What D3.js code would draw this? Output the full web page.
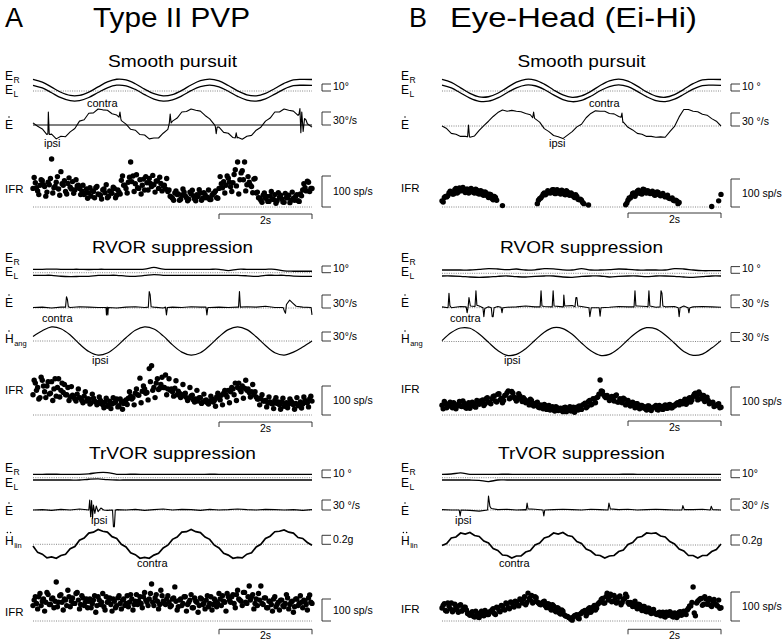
<!DOCTYPE html>
<html><head><meta charset="utf-8">
<script src="https://cdn.jsdelivr.net/npm/d3@7/dist/d3.min.js"></script>
<style>
body{margin:0;background:#fff}
svg{display:block}
text{font-family:"Liberation Sans",Arial,Helvetica,sans-serif;fill:#000}
</style></head>
<body><svg id="c" width="783" height="641"></svg>
<script>
// ---------------- DATA (time axis: 0..6 s, samples evenly spaced) ----------------
const DURATION = 6;
const timeBarSeconds = [4, 6];
const mainTitles = ["Type II PVP", "Eye-Head (Ei-Hi)"];
const panelLetters = ["A", "B"];
const sectionTitles = ["Smooth pursuit", "RVOR suppression", "TrVOR suppression"];

// Smooth pursuit — eye position (deg)
const spA_ER = [16.6,12.7,5.5,-1.8,-6.4,-6.3,-1.6,5.8,12.9,16.8,15.8,10.4,2.7,-3.9,-7,-5.1,0.8,8.6,14.7,17,14.4,7.8,0.2,-5.4,-6.9,-3.4,3.6,11,16,16.6,16.4];
const spA_EL = [8.2,4.4,-2.5,-9.6,-13.9,-13.8,-9.3,-2.2,4.6,8.3,7.4,2.2,-5.2,-11.5,-14.5,-12.7,-7,0.5,6.3,8.5,6,-0.4,-7.6,-13,-14.4,-11.1,-4.4,2.8,7.6,8.2,7.9];
const spB_ER = [16.6,12.3,4.5,-3.4,-8.4,-8.2,-3.2,4.9,12.6,16.7,15.7,9.9,1.5,-5.6,-9.0,-6.9,-0.6,7.9,14.5,17.0,14.1,7.0,-1.2,-7.3,-8.9,-5.1,2.4,10.5,16.0,16.6,16.4];
const spB_EL = [8.3,4.4,-2.8,-10.1,-14.7,-14.6,-9.9,-2.5,4.6,8.5,7.5,2.1,-5.6,-12.2,-15.3,-13.4,-7.5,0.3,6.4,8.7,6.1,-0.5,-8.1,-13.7,-15.2,-11.7,-4.7,2.7,7.7,8.3,8.1];
// Smooth pursuit — eye velocity (deg/s) + saccades [t, v]
const spA_Edot = [5,-3,-9,-22,-21,-32,-26,-27,-16,-8,9,12,27,28,37,35,34,26,23,10,2,-10,-12,-22,-23,-32,-30,-30,-19,-10,9,16,30,31,37,34,32,22,14,1,-5,-17,-19,-29,-28,-33,-26,-24,-12,-5,9,16,30,30,37,34,32,22,14,3,-5];
const spA_EdotSacc = [
  [[0.32,-20],[0.33,30],[0.35,-22]],
  [[1.85,18],[1.87,30],[1.89,14]],
  [[2.93,3],[2.95,25],[2.97,5]],
  [[3.92,-3],[3.94,-20],[3.96,-5]],
  [[4.35,-30],[4.37,-18],[4.39,-30]],
  [[5.72,25],[5.74,38],[5.76,-18],[5.78,30],[5.81,-15],[5.84,15],[5.87,12]]
];
const spB_Edot = [0,-6,-17,-19,-24,-24,-26,-23,-10,1,11,22,31,37,34,36,34,33,29,26,17,9,-6,-13,-22,-25,-29,-21,-13,-2,4,19,29,35,34,34,29,28,22,9,-3,-9,-17,-19,-24,-24,-26,-25,-26,-13,-1,21,38,38,34,33,27,25,17,11,0];
const spB_EdotSacc = [
  [[0.55,-25],[0.57,2],[0.59,-24]],
  [[1.95,19],[1.97,32],[1.99,18]],
  [[3.85,20],[3.87,30],[3.89,8]]
];
// Smooth pursuit — instantaneous firing rate (sp/s); two interleaved spike sets, null = no spikes
const spA_IFR = [60,78,52,70,85,66,48,72,155,62,80,58,114,70,50,76,64,82,55,68,60,
  52,40,58,45,35,50,62,42,38,55,46,30,52,44,60,38,48,
  86,70,60,80,145,100,75,62,88,70,55,78,92,66,72,84,60,76,68,58,
  50,35,28,45,40,22,38,48,30,25,42,36,20,34,45,28,40,32,24,38,46,30,
  60,75,82,70,93,65,78,120,145,88,117,145,72,80,66,90,
  45,30,22,38,28,18,35,25,40,20,32,26,15,30,38,22,28,35,20,42,
  55,62,83,50,60];
const spA_IFR2 = [95,62,40,88,72,35,80,92,45,66,98,38,75,85,42,94,58,44,88,70,40,
  70,45,28,62,52,30,66,40,26,58,72,34,48,64,30,55,42,
  100,70,45,96,82,50,104,60,42,90,98,55,76,102,48,84,96,52,70,92,
  55,32,22,52,42,25,58,36,20,48,54,26,40,56,22,46,30,55,24,44,52,28,
  98,62,45,100,80,50,105,68,42,110,88,52,98,70,46,92,
  48,28,15,45,34,18,50,24,12,46,38,16,44,30,14,48,22,40,18,36,
  75,52,80,60];
const spB_IFR = [22,34,36,50,52,46,66,54,62,70,52,64,56,62,50,60,46,56,42,50,34,44,26,34,null,
  null,5,null,null,null,null,null,null,null,null,null,null,null,null,null,null,
  12,30,38,50,48,54,52,62,48,58,46,56,44,54,42,46,34,38,26,24,12,
  null,7,null,null,null,null,null,null,null,null,null,null,null,null,null,null,null,
  8,24,32,48,38,56,50,46,62,50,54,50,46,44,52,40,48,36,42,30,32,22,22,16,
  null,null,null,null,null,null,null,null,null,null,null,null,null,2,null,null,22,45];
const spB_IFR2 = [18,38,40,56,46,62,50,68,58,62,64,50,66,52,64,48,58,44,54,40,46,30,38,24,
  null,null,null,null,null,null,null,null,null,null,null,null,null,null,null,null,null,
  24,32,46,44,58,50,62,48,62,50,60,46,58,44,50,38,44,28,28,16,
  null,null,null,null,null,null,null,null,null,null,null,null,null,null,null,null,null,null,
  14,32,38,50,46,60,48,64,52,58,48,56,42,54,44,42,40,38,32,30,24,24,12,
  null,null,null,null,null,null,null,null,null,null,null,null,null,null,null,null,null,null];

// RVOR suppression
const rvA_ER = [5.1,5.1,5.3,5.1,5.1,5.1,4.8,5.1,5.1,5.1,5.1,5.1,5.3,8.0,5.3,5.1,5.1,5.1,5.1,5.1,5.1,3.2,5.1,5.1,5.1,5.1,5.1,2.6,2.2,2.2,2.2];
const rvA_EL = [-3.9,-3.9,-3.9,-5.3,-5.8,-5.6,-5.4,-4.1,-3.9,-3.9,-5.1,-5.4,-4.1,-2.8,-3.9,-3.9,-3.9,-3.9,-4.1,-3.9,-3.9,-3.9,-3.9,-4.6,-5.6,-3.9,-3.9,-3.9,-5.1,-5.4,-5.4];
const rvB_ER = [4.9,4.9,4.9,4.9,5.9,6.9,6.4,5.4,6.4,4.9,5.2,6.9,6.6,5.2,4.9,6.9,4.9,4.9,5.4,6.4,5.9,4.9,4.9,4.9,4.9,6.9,6.4,4.9,3.9,3.9,3.9];
const rvB_EL = [-4.0,-4.0,-4.5,-5.5,-6.0,-5.5,-4.5,-4.0,-5.0,-5.5,-4.5,-4.0,-4.0,-5.5,-6.0,-4.5,-4.0,-4.0,-5.5,-4.5,-4.0,-4.0,-5.0,-4.0,-4.0,-4.5,-5.5,-6.0,-5.0,-4.0,-4.0];
const rvA_Edot = [1,2,0,2,1,3,2,1,2,0,2,3,1,2,0,2,1,3,2,1,2,1,2,3,2,4,1,2,3,2,1];
const rvA_EdotSacc = [
  [[0.70,2],[0.72,26],[0.74,20],[0.76,3]],
  [[1.57,1],[1.58,-16],[1.595,2],[1.61,-16],[1.62,1]],
  [[2.48,2],[2.50,38],[2.52,30],[2.54,3]],
  [[2.85,2],[2.87,-16],[2.89,1]],
  [[3.72,2],[3.74,-16],[3.76,1]],
  [[4.42,2],[4.44,38],[4.46,2]],
  [[5.38,1],[5.41,-8],[5.43,-12],[5.45,8],[5.52,18],[5.58,12],[5.66,4]],
  [[5.98,1],[6.0,-16]]
];
const rvB_Edot = [2,0,3,1,4,2,3,1,2,4,2,3,1,2,5,3,2,4,1,3,2,4,3,1,2,3,4,2,3,2,1];
const rvB_EdotSacc = [
  [[0.13,0],[0.15,34],[0.17,5]],
  [[0.52,2],[0.54,-12],[0.56,0],[0.58,24],[0.61,4]],
  [[0.71,3],[0.73,40],[0.75,6]],
  [[0.88,0],[0.90,-21],[0.92,-2]],
  [[1.06,0],[1.08,-21],[1.10,-21],[1.12,0]],
  [[1.27,1],[1.29,-12],[1.31,0]],
  [[2.11,2],[2.13,40],[2.15,4]],
  [[2.37,2],[2.39,40],[2.41,4]],
  [[2.61,2],[2.62,30],[2.64,4]],
  [[2.86,2],[2.88,24],[2.90,24],[2.92,4]],
  [[3.16,0],[3.18,-21],[3.21,0]],
  [[3.38,0],[3.40,-20],[3.42,0]],
  [[4.13,2],[4.15,40],[4.17,4]],
  [[4.43,2],[4.45,40],[4.47,4]],
  [[4.69,2],[4.71,40],[4.73,34],[4.75,4]],
  [[5.08,0],[5.10,-21],[5.12,0]],
  [[5.29,0],[5.31,-12],[5.33,0]]
];
const rvA_Hang = [15,34,47,41,20,-10,-35,-47,-40,-18,11,36,47,40,17,-13,-37,-47,-39,-15,14,38,47,38,14,-15,-39,-47,-37,-20,0];
const rvB_Hang = [3,30,45,44,25,-3,-30,-46,-43,-24,4,31,46,43,24,-5,-31,-46,-43,-23,6,32,46,42,22,-6,-33,-46,-42,-22,3];
const rvA_IFR = [70,110,95,60,120,80,100,72,115,90,65,125,85,
  78,70,95,62,68,55,72,60,50,65,48,55,42,58,45,
  40,50,35,45,30,48,38,42,55,32,46,40,52,
  58,65,60,75,70,127,82,90,78,160,170,95,110,88,
  105,95,138,90,85,80,92,70,75,65,72,60,58,66,52,55,48,60,45,50,42,
  48,55,50,62,58,68,75,70,85,80,90,110,95,88,100,92,85,78,80,
  70,62,55,58,48,50,42,45,38,50,40,35,45,30,42,38,48,35,40,32,45,38,50,42,55,48];
const rvA_IFR2 = [120,85,55,130,100,60,115,75,50,125,95,62,110,
  105,70,50,98,62,48,90,58,42,80,55,38,72,48,35,
  62,40,25,58,35,22,60,45,28,55,20,48,36,
  80,55,35,90,68,42,100,75,52,115,85,60,125,92,
  130,95,70,125,90,65,118,82,60,105,75,50,95,68,45,85,60,40,72,52,38,
  65,45,30,75,52,35,85,62,42,95,70,50,110,80,58,120,90,62,105,
  80,55,35,70,48,28,62,40,22,60,45,20,58,38,25,55,42,20,60,34,24,62,44,28,65];
const rvB_IFR = [35,48,26,40,30,44,22,38,32,50,28,36,24,46,30,52,38,
  48,34,58,46,40,66,50,74,54,44,70,80,58,84,64,50,76,56,
  62,44,50,56,36,40,46,26,32,38,20,34,22,18,30,16,
  24,12,28,16,30,18,10,28,32,20,
  38,26,48,36,58,44,64,125,84,66,70,52,
  66,50,72,46,48,60,36,52,32,46,26,40,22,34,30,18,32,16,
  28,34,18,30,20,36,24,38,26,32,42,
  36,44,50,38,58,46,66,78,54,74,62,48,64,40,
  44,30,34,40,28];
const rvB_IFR2 = [22,40,34,46,26,38,32,48,30,42,24,44,34,40,28,44,50,
  54,40,62,44,58,68,46,76,60,52,72,86,62,78,58,62,68,48,
  56,48,36,52,32,42,28,36,22,34,28,18,30,14,26,22,
  16,26,12,24,14,28,20,18,30,36,
  42,30,52,38,56,62,74,86,72,62,64,58,
  60,68,46,58,44,56,40,44,38,34,40,28,34,26,22,32,20,26,
  30,20,34,22,32,24,36,26,34,38,44,
  48,40,56,44,62,54,74,66,82,58,70,54,52,44,
  46,34,38,26];

// TrVOR suppression
const trA_ER = [4.4,4.4,4.5,4.4,4.4,4.4,5.0,6.6,6.6,4.4,4.4,4.5,4.4,4.4,4.4,4.3,4.4,4.4,4.4,4.5,4.4,4.4,4.4,4.4,4.3,4.4,4.4,4.4,4.4,4.4,4.4];
const trA_EL = [-3,-3,-3,-3,-3,-3,-2.0,-1.5,-2.5,-3,-3,-3,-3,-3,-3,-3,-3,-3,-3,-3,-3,-3,-3,-3,-3,-3,-3,-3,-3,-3,-3];
const trB_ER = [4.4,4.8,6.2,4.4,4.4,4.4,4.4,4.5,4.4,4.4,4.4,4.4,4.4,4.3,4.4,4.4,4.4,4.4,4.4,4.4,4.5,4.4,4.4,4.4,4.4,4.4,4.4,4.4,4.4,4.4,4.4];
const trB_EL = [-3,-3,-3,-3,-3.4,-5.0,-3,-3,-3,-3,-3,-3,-3,-3,-3,-3,-3,-3,-3,-3,-3,-3,-3,-3,-3,-3,-3,-3,-3,-3,-3];
const trA_Edot = [0,1,-1,2,0,3,1,2,-1,1,0,2,-1,1,3,0,2,1,-1,2,0,1,3,1,0,2,1,0,1,-1,1];
const trA_EdotSacc = [
  [[1.20,0],[1.22,30],[1.24,-20],[1.26,28],[1.28,-25],[1.30,15],[1.33,-10],[1.36,12],[1.40,-5],[1.46,6],[1.52,0]],
  [[1.71,0],[1.73,-50],[1.75,-50],[1.77,0]]
];
const trB_Edot = [1,0,2,-1,-3,-2,1,2,0,1,2,0,1,2,1,0,2,1,0,1,2,0,1,2,1,0,2,1,2,1,0];
const trB_EdotSacc = [
  [[0.37,0],[0.39,-16],[0.41,0]],
  [[0.98,0],[1.00,38],[1.03,10],[1.06,4]],
  [[1.81,0],[1.83,19],[1.85,3]],
  [[2.17,0],[2.19,-16],[2.21,0]],
  [[3.57,0],[3.59,19],[3.62,3]],
  [[5.16,0],[5.18,12],[5.21,1]],
  [[5.77,0],[5.79,10],[5.82,1]]
];
const trA_Hlin = [-0.04,-0.18,-0.22,-0.30,-0.28,-0.31,-0.25,-0.22,-0.10,-0.05,0.09,0.14,0.25,0.27,0.33,0.29,0.27,0.17,0.13,0.00,-0.06,-0.19,-0.23,-0.31,-0.29,-0.31,-0.24,-0.20,-0.08,-0.02,0.11,0.16,0.27,0.28,0.33,0.28,0.26,0.16,0.11,-0.02,-0.08,-0.20,-0.24,-0.31,-0.29,-0.30,-0.22,-0.19,-0.06,0.00,0.13,0.18,0.28,0.29,0.32,0.27,0.25,0.15,0.13,0.04,-0.02];
const trB_Hlin = [-0.01,0.03,0.14,0.16,0.24,0.22,0.25,0.19,0.17,0.08,0.04,-0.07,-0.11,-0.20,-0.21,-0.26,-0.22,-0.22,-0.14,-0.11,0.00,0.04,0.14,0.17,0.24,0.22,0.25,0.19,0.17,0.07,0.03,-0.08,-0.12,-0.20,-0.21,-0.26,-0.22,-0.21,-0.13,-0.10,0.01,0.05,0.15,0.17,0.24,0.23,0.24,0.18,0.16,0.07,0.02,-0.08,-0.12,-0.21,-0.21,-0.26,-0.21,-0.21,-0.13,-0.09,0.02];
const trA_IFR = [70,110,55,125,90,45,130,75,100,60,177,85,120,50,95,140,65,105,80,130,55,115,70,100,90,
  60,95,40,110,75,125,50,85,105,45,90,70,115,55,100,80,65,120,50,90,75,
  110,60,130,85,100,168,70,120,55,140,90,75,115,65,100,
  155,50,95,70,110,45,85,120,60,90,40,105,75,55,115,80,50,100,65,125,70,90,45,110,
  85,120,60,140,95,70,130,80,159,110,55,100,125,159,75,105,
  60,90,45,110,75,50,95,65,120,55,85,40,100,70,115,60,90,50,118,80];
const trA_IFR2 = [95,80,110,70,100,85,120,75,105,90,65,115,85,100,70,110,90,80,125,95,
  75,105,85,60,100,80,115,70,95,85,65,110,90,75,100,60,105,80,95,70,
  115,85,100,75,120,90,80,110,95,70,125,85,105,90,75,115,80,100,85,70,
  105,90,65,100,80,110,75,95,60,105,85,70,100,80,95,65,110,75,90,80,
  100,115,85,125,95,110,80,120,100,90,130,85,110,95,120,80,
  70,95,80,105,60,90,75,100,65,85,95,70,80,105,75,90,65,100,80,85,
  95,75,105,85];
const trB_IFR = [45,60,34,52,62,38,50,30,56,40,48,26,
  20,32,14,28,12,34,18,30,22,
  32,42,22,46,32,52,38,58,42,64,48,66,52,72,
  76,56,96,72,62,84,66,58,
  62,68,46,58,38,52,32,44,24,34,18,
  16,10,3,18,22,8,
  28,34,18,42,30,48,38,58,
  66,78,62,96,84,66,88,62,82,56,74,92,64,
  64,50,68,42,56,36,50,32,44,26,40,24,28,
  18,30,14,28,32,16,28,12,30,20,34,22,
  44,52,117,18,68,76,54,84,58,78,50,74,56,72,46];
const trB_IFR2 = [54,36,62,42,32,58,40,54,34,48,38,24,
  28,16,34,14,26,20,36,22,32,
  38,26,48,36,54,40,62,46,66,52,68,56,76,62,
  84,64,78,88,66,80,62,56,
  66,52,60,44,56,36,46,28,38,22,16,
  12,6,14,20,10,24,
  32,36,26,46,36,54,44,62,
  74,62,84,72,92,68,80,66,86,64,78,84,58,
  62,58,48,58,42,50,34,44,30,38,28,22,30,
  26,16,30,20,28,14,26,18,32,24,26,38,
  52,64,28,62,72,78,58,76,70,54,68,60,52,44];

// ---------------- LAYOUT ----------------
const cols = [
  {x0:33, x1:312, bar:322, lab:5, letterX:5, titleX:93, titleW:157},
  {x0:442, x1:721, bar:731, lab:401, letterX:409, titleX:450, titleW:247}
];
const panels = [
  {col:0, sec:0, titleY:67, titleW:129, timeY:214,
   pos:{data:[spA_ER, spA_EL], zero:91, px:7, unit:10, txt:"10°", labY:[80,94]},
   vel:{data:spA_Edot, sacc:spA_EdotSacc, zero:125, px:13, unit:30, txt:"30°/s", labY:129, solid:true},
   ifr:{data:[spA_IFR, spA_IFR2], zero:207, px:31, labY:193},
   notes:[["contra",87,107],["ipsi",44,147]]},
  {col:1, sec:0, titleY:67, titleW:128, timeY:213,
   pos:{data:[spB_ER, spB_EL], zero:91, px:7, unit:10, txt:"10 °", labY:[80,94]},
   vel:{data:spB_Edot, sacc:spB_EdotSacc, zero:126, px:13, unit:30, txt:"30 °/s", labY:129},
   ifr:{data:[spB_IFR, spB_IFR2], zero:207, px:28, labY:192},
   notes:[["contra",589,107],["ipsi",549,147]]},
  {col:0, sec:1, titleY:253, titleW:161, timeY:422,
   pos:{data:[rvA_ER, rvA_EL], zero:272.7, px:6.7, unit:10, txt:"10°", labY:[262,276]},
   vel:{data:rvA_Edot, sacc:rvA_EdotSacc, zero:308, px:13, unit:30, txt:"30°/s", labY:307},
   head:{data:rvA_Hang, kind:"ang", zero:341, px:9, unit:30, txt:"30°/s", labY:343},
   ifr:{data:[rvA_IFR, rvA_IFR2], zero:415, px:29, labY:394},
   notes:[["contra",42,322],["ipsi",92,364]]},
  {col:1, sec:1, titleY:253, titleW:163, timeY:421,
   pos:{data:[rvB_ER, rvB_EL], zero:273.3, px:6.7, unit:10, txt:"10 °", labY:[262,276]},
   vel:{data:rvB_Edot, sacc:rvB_EdotSacc, zero:307.7, px:12.7, unit:30, txt:"30 °/s", labY:307},
   head:{data:rvB_Hang, kind:"ang", zero:341.5, px:9, unit:30, txt:"30 °/s", labY:343},
   ifr:{data:[rvB_IFR, rvB_IFR2], zero:415, px:28, labY:393},
   notes:[["contra",450,322],["ipsi",504,364]]},
  {col:0, sec:2, titleY:459, titleW:167, timeY:629.3,
   pos:{data:[trA_ER, trA_EL], zero:477.7, px:7.7, unit:10, txt:"10 °", labY:[472,487]},
   vel:{data:trA_Edot, sacc:trA_EdotSacc, zero:510, px:10, unit:30, txt:"30 °/s", labY:515},
   head:{data:trA_Hlin, kind:"lin", zero:544.3, px:9, unit:0.2, txt:"0.2g", labY:545},
   ifr:{data:[trA_IFR, trA_IFR2], zero:621, px:22, labY:616},
   notes:[["ipsi",91,524],["contra",137,567]]},
  {col:1, sec:2, titleY:459, titleW:167, timeY:629.3,
   pos:{data:[trB_ER, trB_EL], zero:477.7, px:7.7, unit:10, txt:"10°", labY:[472,487]},
   vel:{data:trB_Edot, sacc:trB_EdotSacc, zero:510, px:11, unit:30, txt:"30° /s", labY:515},
   head:{data:trB_Hlin, kind:"lin", zero:545, px:10, unit:0.2, txt:"0.2g", labY:545},
   ifr:{data:[trB_IFR, trB_IFR2], zero:621, px:29, labY:613},
   notes:[["ipsi",455,524],["contra",499,567]]}
];

// ---------------- DRAWING ----------------
const svg = d3.select("#c");
svg.append("rect").attr("width",783).attr("height",641).attr("fill","#fff");

function uniform(vals){
  const dt = DURATION/(vals.length-1);
  return vals.map((v,i)=>[i*dt, v]);
}
function shifted(vals){           // second spike set, sits half a bin later
  const dt = DURATION/vals.length;
  return vals.map((v,i)=>[(i+0.5)*dt, v]);
}
function withSaccades(vals, groups){
  let pts = uniform(vals);
  (groups||[]).forEach(g=>{
    const a=g[0][0], b=g[g.length-1][0];
    pts = pts.filter(p=>p[0] < a-0.004 || p[0] > b+0.004);
  });
  (groups||[]).forEach(g=>{ pts = pts.concat(g); });
  return pts.sort((p,q)=>p[0]-q[0]);
}
function zeroLine(g, x, yz, solid){
  g.append("line").attr("x1",x.range()[0]).attr("x2",x.range()[1])
    .attr("y1",yz).attr("y2",yz)
    .attr("stroke", solid ? "#000" : "#666")
    .attr("stroke-width", solid ? 1.2 : 0.8)
    .attr("stroke-dasharray", solid ? null : "1,1.3");
}
function bracket(g, bx, top, bot, txt, big){
  g.append("path").attr("d",`M${bx+9},${top}H${bx}V${bot}H${bx+9}`)
    .attr("fill","none").attr("stroke","#222").attr("stroke-width",0.9);
  g.append("text").attr("x", bx+11).attr("y", big ? (top+bot)/2+3.5 : bot-1)
    .attr("font-size", 10.5).text(txt);
}
function labelE(g, x, y, sub){
  const t = g.append("text").attr("x",x).attr("y",y).attr("font-size",12).text("E");
  t.append("tspan").attr("font-size",8.5).attr("dy",3).attr("dx",0.5).text(sub);
}
function labelDot(g, x, y, letter, sub, dots){
  const t = g.append("text").attr("x",x).attr("y",y).attr("font-size",12).text(letter);
  if(sub) t.append("tspan").attr("font-size",7.5).attr("dy",3).attr("dx",0.5).text(sub);
  const cx = x + 4;
  if(dots===1) g.append("circle").attr("cx",cx).attr("cy",y-12).attr("r",0.75).attr("fill","#000");
  if(dots===2){
    g.append("circle").attr("cx",cx-1.6).attr("cy",y-12.5).attr("r",0.75).attr("fill","#000");
    g.append("circle").attr("cx",cx+1.6).attr("cy",y-12.5).attr("r",0.75).attr("fill","#000");
  }
}

// main titles
cols.forEach((c,i)=>{
  svg.append("text").attr("x",c.letterX).attr("y",27).attr("font-size",27).text(panelLetters[i]);
  svg.append("text").attr("x",c.titleX).attr("y",27).attr("font-size",27)
    .attr("textLength",c.titleW).attr("lengthAdjust","spacingAndGlyphs").text(mainTitles[i]);
});

panels.forEach(p=>{
  const c = cols[p.col];
  const g = svg.append("g");
  const x = d3.scaleLinear().domain([0, DURATION]).range([c.x0, c.x1]);

  // section title
  g.append("text").attr("x",(c.x0+c.x1)/2).attr("y",p.titleY).attr("text-anchor","middle")
    .attr("font-size",17).attr("textLength",p.titleW).attr("lengthAdjust","spacingAndGlyphs")
    .text(sectionTitles[p.sec]);

  // eye position
  {
    const s = p.pos;
    const y = d3.scaleLinear().domain([0, s.unit]).range([s.zero, s.zero - s.px]);
    zeroLine(g, x, y(0), false);
    const ln = d3.line().x(d=>x(d[0])).y(d=>y(d[1])).curve(d3.curveCatmullRom);
    s.data.forEach(arr=>{
      g.append("path").attr("d", ln(uniform(arr))).attr("fill","none")
        .attr("stroke","#000").attr("stroke-width",1.3);
    });
    bracket(g, c.bar, y(s.unit), y(0), s.txt, false);
    labelE(g, c.lab, s.labY[0], "R");
    labelE(g, c.lab, s.labY[1], "L");
  }
  // eye velocity
  {
    const s = p.vel;
    const y = d3.scaleLinear().domain([0, s.unit]).range([s.zero, s.zero - s.px]);
    zeroLine(g, x, y(0), !!s.solid);
    const ln = d3.line().x(d=>x(d[0])).y(d=>y(d[1]));
    g.append("path").attr("d", ln(withSaccades(s.data, s.sacc))).attr("fill","none")
      .attr("stroke","#000").attr("stroke-width",1.1).attr("stroke-linejoin","round");
    bracket(g, c.bar, y(s.unit), y(0), s.txt, false);
    labelDot(g, c.lab, s.labY, "E", null, 1);
  }
  // head
  if(p.head){
    const s = p.head;
    const y = d3.scaleLinear().domain([0, s.unit]).range([s.zero, s.zero - s.px]);
    zeroLine(g, x, y(0), false);
    const ln = d3.line().x(d=>x(d[0])).y(d=>y(d[1]))
      .curve(s.kind==="ang" ? d3.curveCatmullRom : d3.curveLinear);
    g.append("path").attr("d", ln(uniform(s.data))).attr("fill","none")
      .attr("stroke","#000").attr("stroke-width", s.kind==="ang" ? 1.2 : 1.7);
    bracket(g, c.bar, y(s.unit), y(0), s.txt, false);
    labelDot(g, c.lab, s.labY, "H", s.kind, s.kind==="ang" ? 1 : 2);
  }
  // IFR
  {
    const s = p.ifr;
    const y = d3.scaleLinear().domain([0, 100]).range([s.zero, s.zero - s.px]);
    zeroLine(g, x, y(0), false);
    const pts = uniform(s.data[0]).concat(shifted(s.data[1])).filter(d=>d[1]!=null);
    g.append("g").selectAll("circle").data(pts)
      .join("circle").attr("cx",d=>x(d[0])).attr("cy",d=>y(d[1])).attr("r",2.7).attr("fill","#000");
    bracket(g, c.bar, y(100), y(0), "100 sp/s", true);
    g.append("text").attr("x",c.lab).attr("y",s.labY).attr("font-size",11.5).text("IFR");
  }
  // notes
  p.notes.forEach(n=>{
    g.append("text").attr("x",n[1]).attr("y",n[2]).attr("font-size",11).text(n[0]);
  });
  // time bar
  {
    const a = x(timeBarSeconds[0]), b = x(timeBarSeconds[1]);
    g.append("path").attr("d",`M${a},${p.timeY+5}V${p.timeY}H${b}V${p.timeY+5}`)
      .attr("fill","none").attr("stroke","#222").attr("stroke-width",0.9);
    g.append("text").attr("x",(a+b)/2).attr("y",p.timeY+10).attr("text-anchor","middle")
      .attr("font-size",10.5).text((timeBarSeconds[1]-timeBarSeconds[0])+"s");
  }
});
</script></body></html>
